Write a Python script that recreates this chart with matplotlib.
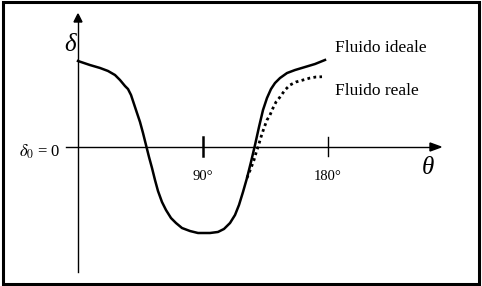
import matplotlib
matplotlib.use("Agg")
import matplotlib.pyplot as plt
from matplotlib.patches import Rectangle

plt.rcParams['mathtext.fontset'] = 'stix'

# angle (deg) and displacement (arbitrary units, 1 = start value)
theta_ideale = [0, 8.64, 15.84, 21.6, 26.64, 30.24, 33.84, 36, 38.16, 40.32,
                42.48, 44.64, 46.8, 48.96, 51.12, 53.28, 55.44, 57.6, 60.48,
                63.36, 66.96, 70.56, 74.88, 80.64, 86.4, 95.04, 100.8, 105.12,
                109.44, 113.04, 115.92, 118.8, 121.68, 124.56, 127.44, 130.32,
                133.2, 136.08, 138.96, 141.84, 145.44, 150.48, 156.24, 163.44,
                170.64, 177.84]
delta_ideale = [1.0, 0.953, 0.919, 0.884, 0.837, 0.779, 0.709, 0.674, 0.605,
                0.5, 0.395, 0.291, 0.163, 0.023, -0.116, -0.244, -0.384,
                -0.512, -0.64, -0.733, -0.826, -0.884, -0.942, -0.977, -1.0,
                -1.0, -0.988, -0.953, -0.884, -0.791, -0.674, -0.523, -0.36,
                -0.174, 0.023, 0.233, 0.43, 0.57, 0.674, 0.744, 0.802, 0.86,
                0.895, 0.93, 0.965, 1.012]

theta_reale = [121.68, 124.56, 126.72, 128.16, 129.6, 131.76, 133.92, 136.08,
               138.24, 140.4, 142.56, 145.44, 149.04, 152.64, 156.96, 162.0,
               167.04, 171.36, 175.68]
delta_reale = [-0.36, -0.244, -0.151, -0.07, 0, 0.116, 0.221, 0.314, 0.372,
               0.453, 0.523, 0.581, 0.663, 0.721, 0.756, 0.779, 0.802, 0.814,
               0.817]

ticks = [90, 180]
tick_labels = ['90°', '180°']

fig = plt.figure(figsize=(4.82, 2.86), dpi=100)
ax = fig.add_axes([0, 0, 1, 1])
# 1 px = 0.72 deg horizontally, 1/86 units vertically
ax.set_xlim(-78 * 0.72, (482 - 78) * 0.72)
ax.set_ylim(-(286 - 147) / 86, 147 / 86)
ax.axis('off')

# frame
ax.add_patch(Rectangle((0.006, 0.008), 0.988, 0.984, transform=ax.transAxes,
                       fill=False, lw=2.2, color='black'))

px = 0.72
py = 1 / 86
# axes
ax.plot([-12 * px, 352 * px], [0, 0], color='black', lw=1)
ax.plot([0, 0], [-125 * py, 125 * py], color='black', lw=1)
ax.fill([352 * px, 363 * px, 352 * px], [-4 * py, 0, 4 * py], color='black')
ax.fill([-4 * px, 0, 4 * px], [125 * py, 133 * py, 125 * py], color='black')

for t, lw in zip(ticks, [1.8, 1.0]):
    ax.plot([t, t], [-9 * py, 10 * py], color='black', lw=lw)
for t, lab in zip(ticks, tick_labels):
    ax.text(t, -29 * py, lab, ha='center', va='center',
            family='Liberation Serif', fontsize=10.5)

ax.plot(theta_ideale, delta_ideale, color='black', lw=1.8)
ax.plot(theta_reale, delta_reale, color='black', lw=2, ls=(0, (1, 1.2)))

ax.text(-8 * px, 102 * py, 'δ', family='Liberation Serif', style='italic',
        fontsize=18, ha='center', va='center')
ax.text(350 * px, -21 * py, 'θ', family='Liberation Serif', style='italic',
        fontsize=18, ha='center', va='center')
ax.text(-17 * px, -5 * py, r'$\delta_0$ = 0', family='Liberation Serif',
        fontsize=12, ha='right', va='center')
ax.text(257 * px, 99 * py, 'Fluido ideale', family='Liberation Serif',
        fontsize=12.5, ha='left', va='center')
ax.text(257 * px, 56 * py, 'Fluido reale', family='Liberation Serif',
        fontsize=12.5, ha='left', va='center')

fig.savefig('out.png', dpi=100)
